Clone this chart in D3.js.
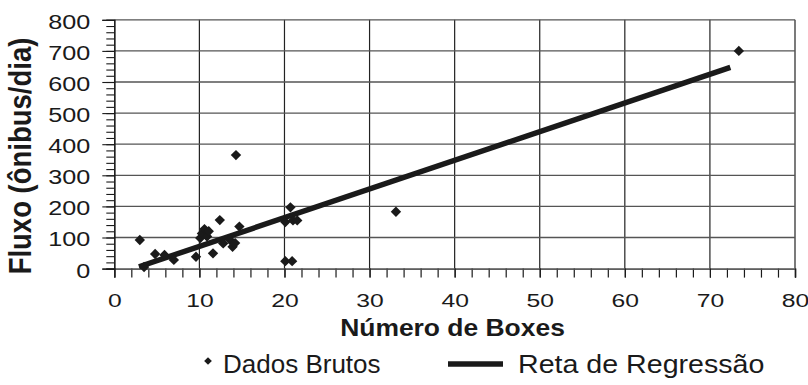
<!DOCTYPE html>
<html>
<head>
<meta charset="utf-8"/>
<title>Fluxo x Número de Boxes</title>
<script src="https://cdn.jsdelivr.net/npm/d3@7/dist/d3.min.js"></script>
<style>
  body, html {margin:0;padding:0;background:#fff;overflow:hidden;}
  svg text {font-family:"Liberation Sans", Arial, sans-serif;fill:#1a1a1a;}
</style>
</head>
<body>
<svg id="chart" width="808" height="385"></svg>
<script>
// dados brutos (boxes x onibus/dia)
var boxes = [3.0, 3.5, 4.8, 5.9, 7.0, 9.6, 10.1, 10.3, 10.6, 10.9, 11.1, 11.6, 12.4, 12.8,
             13.6, 13.9, 14.2, 14.3, 14.7, 20.1, 20.7, 21.0, 21.5, 20.1, 20.9, 33.1, 73.4];
var fluxo = [92, 5, 47, 44, 28, 38, 98, 113, 127, 103, 120, 49, 156, 81,
             92, 70, 82, 365, 135, 150, 197, 155, 155, 24, 24, 183, 700];
// reta de regressao: extremos
var retaX = [2.9, 72.4];
var retaY = [6, 647];

var xTicks = [0, 10, 20, 30, 40, 50, 60, 70, 80];
var yTicks = [0, 100, 200, 300, 400, 500, 600, 700, 800];
var legendLabels = ["Dados Brutos", "Reta de Regressão"];

var svg = d3.select("#chart");
var ink = "#1a1a1a";

var x = d3.scaleLinear().domain([0, 80]).range([114.3, 795]);
var y = d3.scaleLinear().domain([0, 800]).range([268.6, 19.8]);

// grade
svg.append("g").selectAll("line.v").data(xTicks.slice(1)).enter()
  .append("line")
  .attr("x1", d => x(d)).attr("x2", d => x(d))
  .attr("y1", y(0)).attr("y2", y(800))
  .attr("stroke", "#222").attr("stroke-width", 1.2);
svg.append("g").selectAll("line.h").data(yTicks.slice(1)).enter()
  .append("line")
  .attr("x1", x(0)).attr("x2", x(80))
  .attr("y1", d => y(d)).attr("y2", d => y(d))
  .attr("stroke", "#555").attr("stroke-width", 1.3);

// eixo x: ticks menores a cada 2
var xMinor = svg.append("g").attr("transform", "translate(0," + y(0) + ")")
  .call(d3.axisBottom(x).tickValues(d3.range(0, 81, 2)).tickSize(9).tickFormat(""));
var xMajor = svg.append("g").attr("transform", "translate(0," + y(0) + ")")
  .call(d3.axisBottom(x).tickValues(xTicks).tickSize(9).tickPadding(16));
[xMinor, xMajor].forEach(function (g) {
  g.select(".domain").attr("stroke", "#555").attr("stroke-width", 1.3);
  g.selectAll(".tick line").attr("stroke", ink).attr("stroke-width", 1.2);
});
xMajor.selectAll(".tick text")
  .attr("font-size", 19).attr("fill", ink)
  .attr("font-family", "Liberation Sans, Arial, sans-serif")
  .attr("transform", "scale(1.3,1)");

// eixo y: ticks menores a cada 10
var yMinor = svg.append("g").attr("transform", "translate(" + x(0) + ",0)")
  .call(d3.axisLeft(y).tickValues(d3.range(0, 801, 20)).tickSize(8).tickFormat(""));
var yMajor = svg.append("g").attr("transform", "translate(" + x(0) + ",0)")
  .call(d3.axisLeft(y).tickValues(yTicks).tickSize(12).tickPadding(8));
[yMinor, yMajor].forEach(function (g) {
  g.select(".domain").attr("stroke", ink).attr("stroke-width", 1.2);
  g.selectAll(".tick line").attr("stroke", ink).attr("stroke-width", 1.1);
});
yMajor.selectAll(".tick text")
  .attr("font-size", 21).attr("fill", ink)
  .attr("font-family", "Liberation Sans, Arial, sans-serif")
  .attr("dy", "0.4em")
  .attr("transform", "scale(1.2,1)");

// titulos
svg.append("text")
  .attr("transform", "translate(452.5,336) scale(1.15,1)")
  .attr("text-anchor", "middle").attr("font-weight", "bold").attr("font-size", 23)
  .text("Número de Boxes");
svg.append("text")
  .attr("transform", "translate(31,156) rotate(-90) scale(1,1.12)")
  .attr("text-anchor", "middle").attr("font-weight", "bold").attr("font-size", 27.5)
  .text("Fluxo (ônibus/dia)");

// reta de regressao
var line = d3.line().x(d => x(d[0])).y(d => y(d[1]));
svg.append("path")
  .datum(d3.zip(retaX, retaY))
  .attr("d", line)
  .attr("fill", "none").attr("stroke", ink).attr("stroke-width", 5.5);

// pontos
var diamond = d3.symbol().type(d3.symbolSquare).size(54);
svg.append("g").selectAll("path.pt").data(d3.zip(boxes, fluxo)).enter()
  .append("path")
  .attr("d", diamond)
  .attr("transform", d => "translate(" + x(d[0]) + "," + y(d[1]) + ") rotate(45)")
  .attr("fill", ink);

// legenda
var leg = svg.append("g");
leg.append("path")
  .attr("d", d3.symbol().type(d3.symbolSquare).size(30))
  .attr("transform", "translate(208,361) rotate(45)")
  .attr("fill", ink);
leg.append("text").attr("x", 223).attr("y", 373).attr("font-size", 26).text(legendLabels[0]);
leg.append("line").attr("x1", 448).attr("x2", 503).attr("y1", 364).attr("y2", 364)
  .attr("stroke", ink).attr("stroke-width", 5.5);
leg.append("text").attr("transform", "translate(518,373) scale(1.1,1)")
  .attr("font-size", 26).text(legendLabels[1]);
</script>
</body>
</html>
